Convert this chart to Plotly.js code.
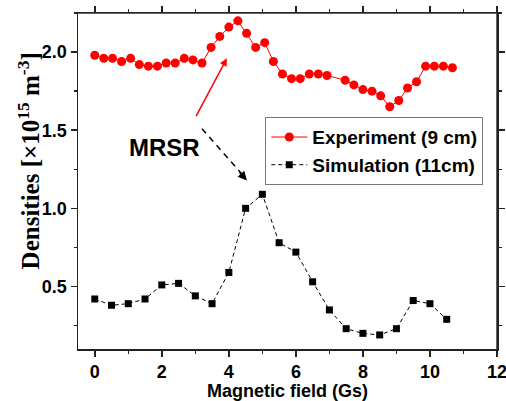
<!DOCTYPE html>
<html>
<head>
<meta charset="utf-8">
<script src="https://cdn.plot.ly/plotly-3.0.1.min.js"></script>
<style>html,body{margin:0;padding:0;background:#fff;overflow:hidden}#chart{width:506px;height:401px}</style>
</head>
<body>
<div id="chart"></div>
<script>
// Experiment (9 cm)
const expX = [0, 0.27, 0.53, 0.8, 1.07, 1.33, 1.6, 1.87, 2.13, 2.4, 2.67, 2.93, 3.2, 3.47, 3.73, 4.0, 4.27, 4.53, 4.8, 5.07, 5.33, 5.6, 5.87, 6.13, 6.4, 6.67, 6.93, 7.47, 7.73, 8.0, 8.27, 8.53, 8.8, 9.07, 9.33, 9.6, 9.87, 10.13, 10.4, 10.67];
const expY = [1.98, 1.96, 1.96, 1.94, 1.96, 1.92, 1.91, 1.91, 1.93, 1.93, 1.96, 1.95, 1.93, 2.03, 2.10, 2.16, 2.20, 2.12, 2.03, 2.06, 1.94, 1.86, 1.83, 1.83, 1.86, 1.86, 1.85, 1.82, 1.79, 1.76, 1.75, 1.72, 1.65, 1.69, 1.77, 1.81, 1.91, 1.91, 1.91, 1.90];
// Simulation (11cm)
const simX = [0, 0.5, 1, 1.5, 2, 2.5, 3, 3.5, 4, 4.5, 5, 5.5, 6, 6.5, 7, 7.5, 8, 8.5, 9, 9.5, 10, 10.5];
const simY = [0.42, 0.38, 0.39, 0.42, 0.51, 0.52, 0.44, 0.39, 0.59, 1.00, 1.09, 0.78, 0.72, 0.53, 0.35, 0.23, 0.20, 0.19, 0.23, 0.41, 0.39, 0.29];

const names = ['Experiment (9 cm)', 'Simulation (11cm)'];
const xTitle = 'Magnetic field (Gs)';
const yTitle = 'Densities [×10<sup>15</sup> m<sup>-3</sup>]';
const label = 'MRSR';

const sans = 'Liberation Sans, Arial';
const tickFont = {family: sans, size: 18, color: '#000', weight: 'bold'};
const xRange = [-0.5, 12];
const yRange = [0.1, 2.25];

const traces = [
  // top and right edges of the frame, built from the axis ranges
  {x: [xRange[0], xRange[1], xRange[1]], y: [yRange[1], yRange[1], yRange[0]],
   type: 'scatter', mode: 'lines', line: {color: '#333', width: 1.5}, cliponaxis: false,
   showlegend: false, hoverinfo: 'skip'},
  {x: expX, y: expY, name: names[0], type: 'scatter', mode: 'lines+markers',
   line: {color: '#ff0000', width: 1}, marker: {color: '#ff0000', size: 9, symbol: 'circle'}},
  {x: simX, y: simY, name: names[1], type: 'scatter', mode: 'lines+markers',
   line: {color: '#000', width: 1, dash: '4px,3px'}, marker: {color: '#000', size: 7, symbol: 'square'}}
];

const minorStyle = {ticklen: 3, tickwidth: 1.5, tickcolor: '#222'};

const layout = {
  width: 506, height: 401,
  margin: {l: 78, r: 9, t: 13, b: 52},
  paper_bgcolor: '#fff', plot_bgcolor: '#fff',
  showlegend: true,
  legend: {x: 0.447, y: 0.69, xanchor: 'left', yanchor: 'top', bgcolor: '#fff',
           bordercolor: '#777', borderwidth: 1, tracegroupgap: 0, itemwidth: 36,
           font: {family: sans, size: 19, color: '#000', weight: 'bold'}},
  xaxis: {range: xRange, dtick: 2, tick0: 0, showgrid: false, zeroline: false,
          showline: true, mirror: 'ticks', linecolor: '#222', linewidth: 1.5,
          ticks: 'outside', ticklen: 6, tickwidth: 1.5, tickcolor: '#222', ticklabeloverflow: 'allow',
          minor: Object.assign({dtick: 1, tick0: 0, ticks: 'outside'}, minorStyle),
          tickfont: tickFont,
          title: {text: xTitle, standoff: 4, font: {family: sans, size: 18, color: '#000', weight: 'bold'}}},
  yaxis: {range: yRange, dtick: 0.5, tick0: 0, tickformat: '.1f', showgrid: false, zeroline: false,
          showline: true, mirror: 'ticks', linecolor: '#222', linewidth: 1.5,
          ticks: 'outside', ticklen: 6, tickwidth: 1.5, tickcolor: '#222',
          minor: Object.assign({dtick: 0.25, tick0: 0, ticks: 'outside'}, minorStyle),
          tickfont: tickFont},
  shapes: [
    {type: 'line', xref: 'x', yref: 'y', x0: 3.2, y0: 1.51, x1: 4.47, y1: 1.2,
     line: {color: '#000', width: 1.5, dash: '6px,5px'}}
  ],
  annotations: [
    {xref: 'paper', yref: 'paper', x: -0.118, y: 0.56, xanchor: 'center', yanchor: 'middle',
     textangle: -90, text: yTitle, showarrow: false,
     font: {family: 'Liberation Serif, Times New Roman', size: 25, color: '#000', weight: 'bold'}},
    {xref: 'x', yref: 'y', x: 2.07, y: 1.39, text: label, showarrow: false,
     font: {family: sans, size: 24, color: '#000', weight: 'bold'}},
    {xref: 'x', yref: 'y', x: 3.94, y: 1.96, axref: 'x', ayref: 'y', ax: 3.0, ay: 1.58,
     text: '', showarrow: true, arrowcolor: '#ff0000', arrowwidth: 1.5, arrowhead: 2, arrowsize: 1},
    {xref: 'x', yref: 'y', x: 4.54, y: 1.178, ax: -9, ay: -10,
     text: '', showarrow: true, arrowcolor: '#000', arrowwidth: 1.5, arrowhead: 2, arrowsize: 1.2}
  ]
};

Plotly.newPlot('chart', traces, layout, {displayModeBar: false, staticPlot: true});
</script>
</body>
</html>
